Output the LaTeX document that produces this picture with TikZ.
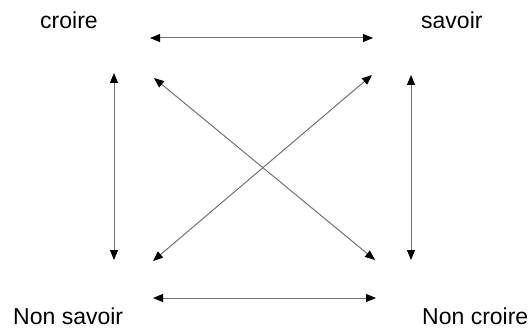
\documentclass[tikz,border=0pt]{standalone}
\usepackage{fontspec}
\setmainfont{Liberation Sans}
\usetikzlibrary{arrows.meta}

\begin{document}
\begin{tikzpicture}[x=1pt,y=-1pt,
    link/.style={draw=black!55,line width=1pt,
      {Triangle[length=10pt,width=8pt,color=black]}-{Triangle[length=10pt,width=8pt,color=black]}},
    word/.style={anchor=west,inner sep=0pt,font=\fontsize{23}{27}\selectfont}]

  % Canvas of the reference (pixels)
  \useasboundingbox (0,0) rectangle (528,329);

  % --- The four terms ---
  \node[word] (croire)    at ( 40, 20) {croire};
  \node[word] (savoir)    at (421, 20) {savoir};
  \node[word] (nonsavoir) at ( 13,316) {Non savoir};
  \node[word] (noncroire) at (422,316) {Non croire};

  % --- Arrow ends ---
  \coordinate (tl) at (150, 38);  \coordinate (tr) at (373, 38);
  \coordinate (bl) at (153,298);  \coordinate (br) at (376,298);
  \coordinate (lt) at (114, 73);  \coordinate (lb) at (114,260);
  \coordinate (rt) at (411, 75);  \coordinate (rb) at (411,260);
  \coordinate (dtl) at (154, 78); \coordinate (dbr) at (375,260);
  \coordinate (dtr) at (372, 75); \coordinate (dbl) at (153,261);

  % --- Relations ---
  \draw[link] (tl) -- (tr);
  \draw[link] (bl) -- (br);
  \draw[link] (lt) -- (lb);
  \draw[link] (rt) -- (rb);
  \draw[link] (dtl) -- (dbr);
  \draw[link] (dtr) -- (dbl);

\end{tikzpicture}
\end{document}
